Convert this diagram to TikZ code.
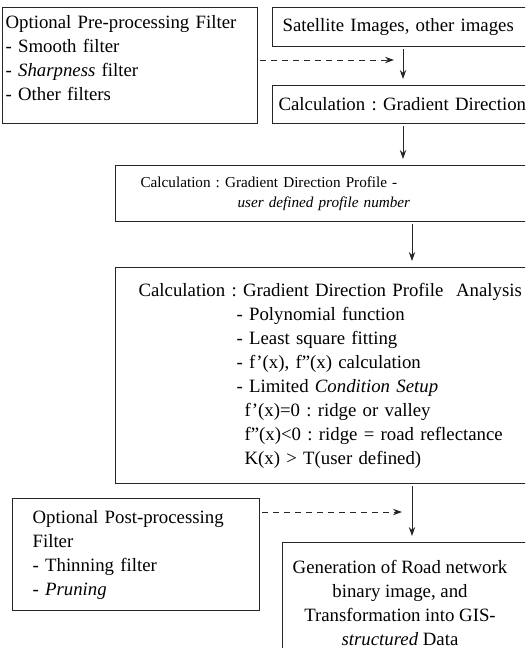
\documentclass[tikz,border=0pt]{standalone}
\usepackage{fontspec}
\setmainfont{Liberation Serif}
\usetikzlibrary{arrows.meta, positioning, calc}
\frenchspacing

\begin{document}
\begin{tikzpicture}[
  x=0.5pt, y=-0.5pt,
  font=\fontsize{9.4}{12}\selectfont,
  >={Stealth[length=4.5pt, width=3.2pt]},
  box/.style={draw=black!85, line width=0.6pt, anchor=north west, align=left,
              inner ysep=0pt, inner xsep=#1},
  box/.default=3pt,
  flowarrow/.style={->, draw=black!85, line width=0.5pt, shorten >=3pt, shorten <=1pt},
  optarrow/.style={->, draw=black!85, line width=0.5pt, dash pattern=on 3pt off 2.5pt,
                   shorten <=1pt},
]
\clip (0,0) rectangle (525,648);

%% Row 1: pre-processing filter | input images
\node[box=1.5pt, text width=124.5pt, minimum height=58pt] (pre) at (2,7)
  {Optional Pre-processing Filter\\- Smooth filter\\- \textit{Sharpness} filter\\- Other filters\\[-4pt]\mbox{}};
\node[box=5pt, text width=160pt, minimum height=19.5pt] (sat) at (272,7)
  {Satellite Images, other images};
\node[box=3pt, text width=160pt, minimum height=19pt] (calc) at (272,85)
  {Calculation : Gradient Direction};

%% Row 2: profile
\node[box=12.5pt, text width=260pt, minimum height=28pt,
      font=\fontsize{7.6}{10}\selectfont] (profile) at (115,165)
  {Calculation : Gradient Direction Profile -\\
   \hspace*{48.5pt}\textit{user defined profile number}};

%% Row 3: profile analysis
\node[box=11.5pt, text width=260pt, minimum height=108pt] (analysis) at (115,267)
  {Calculation : Gradient Direction Profile\ \ Analysis\\
   \hspace*{49pt}- Polynomial function\\
   \hspace*{49pt}- Least square fitting\\
   \hspace*{49pt}- f'(x), f''(x) calculation\\
   \hspace*{49pt}- Limited \textit{Condition Setup}\\
   \hspace*{53pt}f'(x)=0 : ridge or valley\\
   \hspace*{53pt}f''(x)<0 : ridge = road reflectance\\
   \hspace*{53pt}K(x) > T(user defined)};

%% Row 4: post-processing filter | output
\node[box=10pt, text width=103.5pt, minimum height=56pt] (post) at (12,498)
  {Optional Post-processing\\Filter\\- Thinning filter\\- \textit{Pruning}};
\node[box, minimum width=130pt, minimum height=60pt] (gen) at (282,542) {};
\node[align=center, inner sep=0pt] (gentext) at (400,603)
  {Generation of Road network\\binary image, and\\Transformation into GIS-\\\textit{structured} Data};

%% Arrows
\coordinate (colA) at (403,0);
\coordinate (colB) at (412,0);
\coordinate (prein) at (394,60);
\coordinate (postin) at (402,512);

\draw[flowarrow] (sat.south -| colA) -- (calc.north -| colA);
\draw[flowarrow] (calc.south -| colA) -- (profile.north -| colA);
\draw[flowarrow] (profile.south -| colB) -- (analysis.north -| colB);
\draw[flowarrow] (analysis.south -| colB) -- (gen.north -| colB);
\draw[optarrow] (pre.east |- prein) -- (prein);
\draw[optarrow] (post.east |- postin) -- (postin);

\end{tikzpicture}
\end{document}
